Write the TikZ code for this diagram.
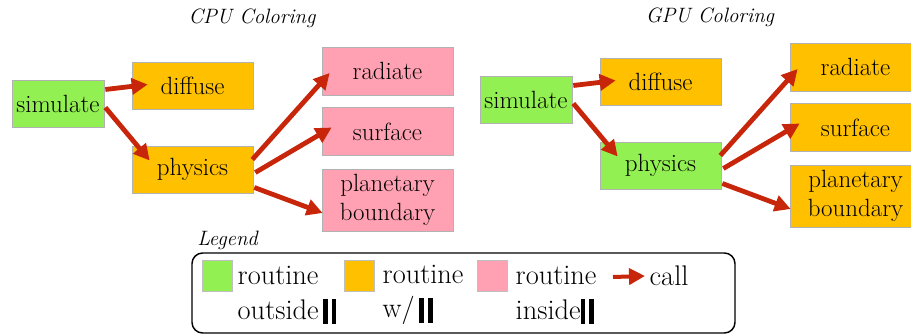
\documentclass[tikz,border=0pt]{standalone}
\usetikzlibrary{arrows.meta}

\definecolor{outgreen}{RGB}{146,240,82}
\definecolor{withorange}{RGB}{255,192,0}
\definecolor{inpink}{RGB}{255,161,178}
\definecolor{callred}{RGB}{200,38,10}

\newcommand{\parbars}{\rule[-3.5pt]{3.6pt}{18.5pt}\hspace{2.6pt}\rule[-3.5pt]{3.6pt}{18.5pt}}

\tikzset{
  routine/.style={draw=black!30, line width=0.5pt, inner sep=0pt, align=center,
    minimum height=35.25pt, font=\fontsize{18.7}{22}\selectfont},
  leftbox/.style={routine, minimum width=69pt},
  midbox/.style={routine, minimum width=90.75pt},
  rightbox/.style={routine, minimum width=98.25pt, minimum height=36pt},
  call/.style={callred, line width=3.6pt,
    -{Triangle[length=12pt,width=12pt]}},
  title/.style={font=\fontsize{15.6}{18}\selectfont\itshape},
  legtext/.style={anchor=west, align=left, font=\fontsize{21.3}{26}\selectfont},
  swatch/.style={draw=black!25, line width=0.5pt, minimum width=22.5pt,
    minimum height=23.5pt, inner sep=0pt}
}

\begin{document}
\begin{tikzpicture}[x=0.75pt,y=-0.75pt]
\useasboundingbox (0,0) rectangle (911,335);

% CPU colouring
\begin{scope}
\node[title] (ctitle) at (252,18) {CPU Coloring};
\node[leftbox, fill=outgreen] (csim) at (58,103.5) {simulate};
\node[midbox, fill=withorange] (cdif) at (192.5,85.5) {diffuse};
\node[midbox, fill=withorange] (cphy) at (192.5,169.5) {physics};
\node[rightbox, fill=inpink] (crad) at (387.5,71) {radiate};
\node[rightbox, fill=inpink] (csur) at (387.5,131.5) {surface};
\node[rightbox, fill=inpink, minimum height=46.5pt] (cpla) at (387.5,200)
  {planetary\\boundary};

\draw[call] ([shift={(1,-14)}]csim.east) -- ([shift={(16,-1)}]cdif.west);
\draw[call] ([shift={(1,4)}]csim.east) -- ([shift={(18,-9)}]cphy.west);
\draw[call] ([shift={(-1,-10)}]cphy.east) -- ([shift={(8,2)}]crad.west);
\draw[call] ([shift={(2,3)}]cphy.east) -- ([shift={(10,-4)}]csur.west);
\draw[call] ([shift={(1,18)}]cphy.east) -- ([shift={(1,13)}]cpla.west);
\end{scope}

% GPU colouring
\begin{scope}[shift={(468,-4)}]
\node[title] (gtitle) at (242,21) {GPU Coloring};
\node[leftbox, fill=outgreen] (gsim) at (58,103.5) {simulate};
\node[midbox, fill=withorange] (gdif) at (192.5,85.5) {diffuse};
\node[midbox, fill=outgreen] (gphy) at (192.5,169.5) {physics};
\node[rightbox, fill=withorange] (grad) at (387.5,71) {radiate};
\node[rightbox, fill=withorange] (gsur) at (387.5,131.5) {surface};
\node[rightbox, fill=withorange, minimum height=46.5pt] (gpla) at (387.5,200)
  {planetary\\boundary};

\draw[call] ([shift={(1,-14)}]gsim.east) -- ([shift={(16,-1)}]gdif.west);
\draw[call] ([shift={(1,4)}]gsim.east) -- ([shift={(18,-9)}]gphy.west);
\draw[call] ([shift={(-1,-10)}]gphy.east) -- ([shift={(8,2)}]grad.west);
\draw[call] ([shift={(2,3)}]gphy.east) -- ([shift={(10,-4)}]gsur.west);
\draw[call] ([shift={(1,18)}]gphy.east) -- ([shift={(1,13)}]gpla.west);
\end{scope}

% legend
\node[title, anchor=west, inner sep=0pt] (legtitle) at (197,240) {Legend};
\draw[line width=1.1pt, rounded corners=8pt] (192,253) rectangle (735,333);

\node[swatch, fill=outgreen] (lgreen) at (217,275.5) {};
\node[swatch, fill=withorange] (lorange) at (359,275.5) {};
\node[swatch, fill=inpink] (lpink) at (492,275.5) {};
\node[legtext] (tgreen) at (233,295) {routine\\outside\,\parbars};
\node[legtext] (torange) at (378,295) {routine\\w/\,\parbars};
\node[legtext] (tpink) at (511,295) {routine\\inside\parbars};
\coordinate (lcall) at (613,277);
\node[legtext] (tcall) at (645,276) {call};
\draw[call, line width=3pt] (lcall) -- (tcall.west);
\end{tikzpicture}
\end{document}
